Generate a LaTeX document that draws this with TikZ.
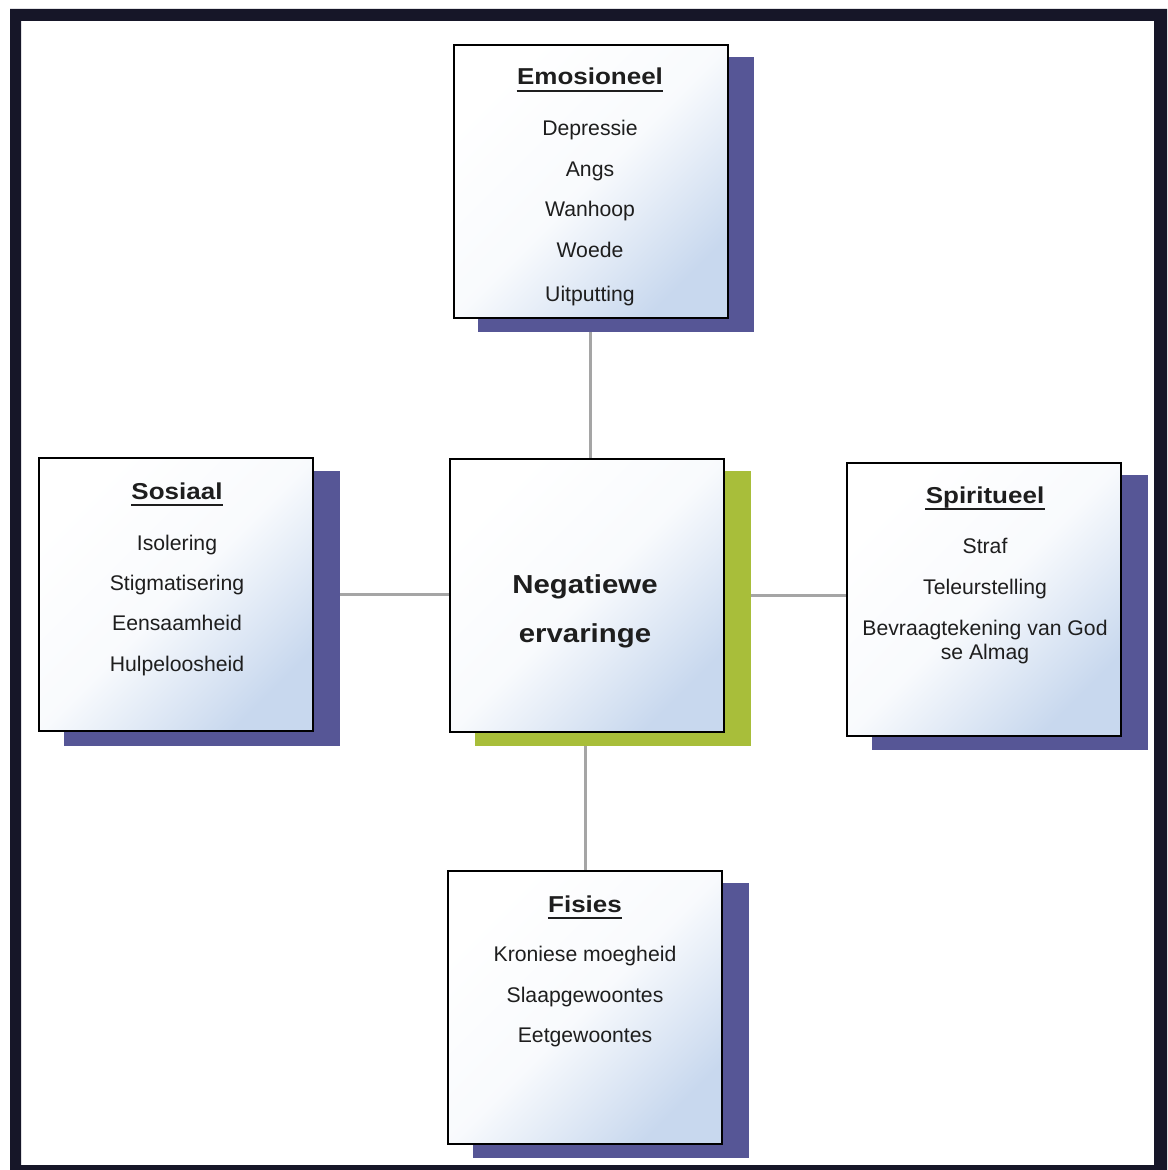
\documentclass[tikz,border=0pt]{standalone}
\usepackage{fontspec}
\setmainfont{Liberation Sans}
\newfontfamily\headfont[FakeStretch=1.13]{Liberation Sans}
\usetikzlibrary{backgrounds}
\definecolor{shadowblue}{RGB}{86,86,150}
\definecolor{shadowgreen}{RGB}{168,190,58}
\definecolor{boxblue}{RGB}{200,216,238}
\definecolor{linegray}{RGB}{165,165,165}
\definecolor{framecol}{RGB}{22,22,40}
\definecolor{textcol}{RGB}{30,30,30}
\begin{document}
\begin{tikzpicture}[x=0.5pt,y=-0.5pt,
  box/.style={draw=black, line width=1pt, minimum width=137pt, minimum height=136.5pt,
    inner sep=0pt, top color=white, bottom color=boxblue, middle color={boxblue!12!white}, shading angle=45},
  heading/.style={font=\headfont\bfseries\fontsize{11.5pt}{14pt}\selectfont, inner sep=0pt, anchor=base, text=textcol},
  item/.style={font=\fontsize{10.6pt}{13pt}\selectfont, inner sep=0pt, anchor=base, text=textcol},
  centertext/.style={font=\headfont\bfseries\fontsize{13pt}{16pt}\selectfont, inner sep=0pt, anchor=base, text=textcol},
  conn/.style={draw=linegray, line width=1.5pt},
  uline/.style={draw=textcol, line width=1.2pt},
  blueshadow/.style={fill=shadowblue},
  greenshadow/.style={fill=shadowgreen}]
\useasboundingbox (0,0) rectangle (1167,1170);

% boxes
\node[box] (emo) at (590.5,181.5) {};
\node[box] (cen) at (587,595) {};
\node[box] (sos) at (176,594.5) {};
\node[box] (spir) at (984,599) {};
\node[box] (fis) at (585,1007.5) {};

\begin{pgfonlayer}{background}
  \fill[white] (0,0) rectangle (1167,1170);
  \draw[conn] (emo.center) -- (emo.center |- cen.center);
  \draw[conn] (sos.center) -- (sos.center -| cen.center);
  \draw[conn] (cen.center) -- (cen.center -| spir.center);
  \draw[conn] (fis.center) -- (fis.center |- cen.center);
  \fill[blueshadow] ([shift={(25,13)}]emo.north west) rectangle ([shift={(25,13)}]emo.south east);
  \fill[blueshadow] ([shift={(26,14)}]sos.north west) rectangle ([shift={(26,14)}]sos.south east);
  \fill[blueshadow] ([shift={(26,13)}]spir.north west) rectangle ([shift={(26,13)}]spir.south east);
  \fill[blueshadow] ([shift={(26,13)}]fis.north west) rectangle ([shift={(26,13)}]fis.south east);
  \fill[greenshadow] ([shift={(26,13)}]cen.north west) rectangle ([shift={(26,13)}]cen.south east);
\end{pgfonlayer}

% Emosioneel
\node[heading] (emoh) at (590,85) {Emosioneel};
\draw[uline] ([yshift=-3pt]emoh.base west) -- ([yshift=-3pt]emoh.base east);
\node[item] (emo1) at (590,136) {Depressie};
\node[item] (emo2) at (590,177) {Angs};
\node[item] (emo3) at (590,217) {Wanhoop};
\node[item] (emo4) at (590,258) {Woede};
\node[item] (emo5) at (590,302) {Uitputting};

% Sosiaal
\node[heading] (sosh) at (177,499) {Sosiaal};
\draw[uline] ([yshift=-3pt]sosh.base west) -- ([yshift=-3pt]sosh.base east);
\node[item] (sos1) at (177,550) {Isolering};
\node[item] (sos2) at (177,590) {Stigmatisering};
\node[item] (sos3) at (177,630) {Eensaamheid};
\node[item] (sos4) at (177,671) {Hulpeloosheid};

% Spiritueel
\node[heading] (spirh) at (985,503) {Spiritueel};
\draw[uline] ([yshift=-3pt]spirh.base west) -- ([yshift=-3pt]spirh.base east);
\node[item] (spir1) at (985,553) {Straf};
\node[item] (spir2) at (985,594) {Teleurstelling};
\node[item] (spir3) at (985,635) {Bevraagtekening van God};
\node[item] (spir4) at (985,659) {se Almag};

% Fisies
\node[heading] (fish) at (585,912) {Fisies};
\draw[uline] ([yshift=-3pt]fish.base west) -- ([yshift=-3pt]fish.base east);
\node[item] (fis1) at (585,961) {Kroniese moegheid};
\node[item] (fis2) at (585,1002) {Slaapgewoontes};
\node[item] (fis3) at (585,1042) {Eetgewoontes};

% centre
\node[centertext] (cen1) at (585,593) {Negatiewe};
\node[centertext] (cen2) at (585,642) {ervaringe};

% outer frame
\fill[framecol, even odd rule] (10,9) rectangle (1167,1170) (21,21) rectangle (1154,1165);
\end{tikzpicture}
\end{document}
